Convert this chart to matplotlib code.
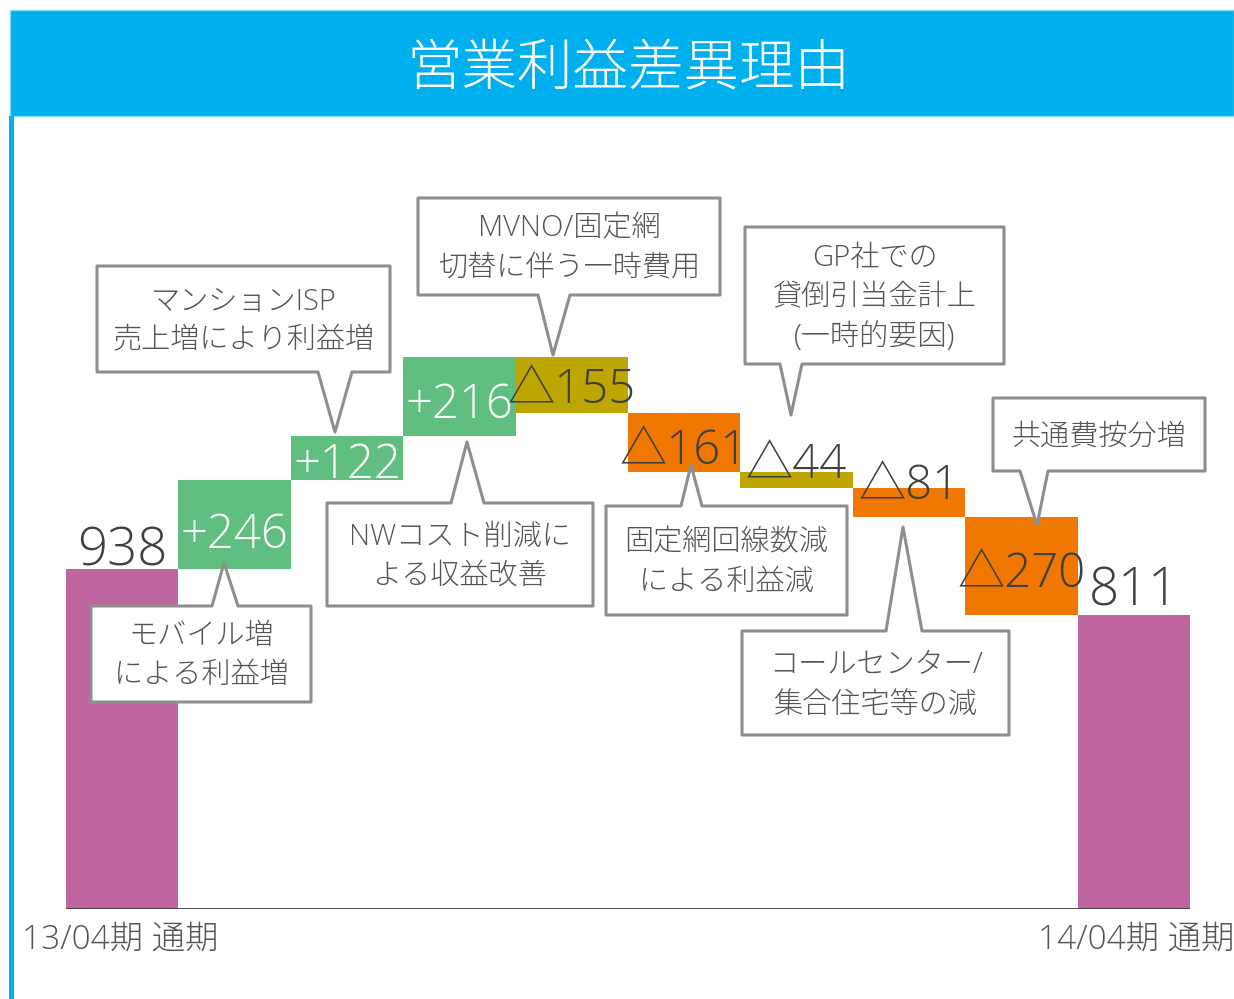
import matplotlib
matplotlib.use('Agg')
import matplotlib.pyplot as plt
from matplotlib.patches import Polygon, Rectangle

plt.rcParams['font.family'] = ['Open Sans', 'Noto Sans CJK JP', 'DejaVu Sans']
plt.rcParams['font.weight'] = 'light'

# data
title = '営業利益差異理由'
start_label = '13/04期 通期'
end_label = '14/04期 通期'
start_value = 938
changes = [246, 122, 216, -155, -161, -44, -81, -270]
one_time = [False, False, False, True, False, True, False, False]
notes = [
    'モバイル増\nによる利益増',
    'マンションISP\n売上増により利益増',
    'NWコスト削減に\nよる収益改善',
    'MVNO/固定網\n切替に伴う一時費用',
    '固定網回線数減\nによる利益減',
    'GP社での\n貸倒引当金計上\n(一時的要因)',
    'コールセンター/\n集合住宅等の減',
    '共通費按分増',
]

PURPLE = '#BF66A0'
GREEN = '#60BF80'
OLIVE = '#BDA600'
ORANGE = '#F07800'
BLUE = '#00B0EE'
DARK = '#404040'
GREY_TXT = '#555555'
EDGE = '#8E8E8E'

W, H = 1234, 999
fig = plt.figure(figsize=(W / 100, H / 100), dpi=100)

# main axes: baseline at y=909 px, bars from x=66 to 1190 px
top_px, base_px = 120, 909
ax = fig.add_axes([66 / W, (H - base_px) / H, (1190 - 66) / W, (base_px - top_px) / H])
ax.set_xlim(-0.5, len(changes) + 1.5)
ax.set_ylim(0, start_value * (base_px - top_px) / (base_px - 569))
ax.axis('off')

end_value = start_value + sum(changes)
bottoms, heights, colors = [0], [start_value], [PURPLE]
run = start_value
for c, ot in zip(changes, one_time):
    if c >= 0:
        bottoms.append(run)
        heights.append(c)
        colors.append(GREEN)
    else:
        bottoms.append(run + c)
        heights.append(-c)
        colors.append(OLIVE if ot else ORANGE)
    run += c
bottoms.append(0)
heights.append(end_value)
colors.append(PURPLE)

xs = list(range(len(heights)))
ax.bar(xs, heights, bottom=bottoms, width=1.0, color=colors, linewidth=0, zorder=2)
ax.axhline(0, color=DARK, lw=2, zorder=3)

# value labels
labels = [str(start_value)]
for c in changes:
    labels.append('+%d' % c if c >= 0 else '△%d' % (-c))
labels.append(str(end_value))
offs = [4, -24, -20, -22, -18, -21, 2, 3, -21, 10]
for i, (x, b, h, lab) in enumerate(zip(xs, bottoms, heights, labels)):
    if i in (0, len(xs) - 1):
        y = b + h
        size = 38
    else:
        y = b + h / 2
        size = 34
    col = 'white' if colors[i] == GREEN else DARK
    ax.annotate(lab, (x, y), xytext=(0, offs[i]), textcoords='offset pixels',
                ha='center', va='baseline', fontsize=size, color=col, zorder=5)

# overlay in pixel coords: banner, callouts, category labels
ov = fig.add_axes([0, 0, 1, 1], zorder=10)
ov.set_xlim(0, W)
ov.set_ylim(H, 0)
ov.axis('off')
ov.patch.set_alpha(0)

ov.add_patch(Rectangle((10, 10), W - 10, 106, facecolor=BLUE, edgecolor='#80D8F7', lw=1))
ov.add_patch(Rectangle((9, 116), 5, H - 116, facecolor=BLUE, edgecolor='none'))
ov.text(628, 70, title, color='white', fontsize=40, ha='center', va='center')

# box (l, t, r, b), pointer base (x1, x2), tip (tx, ty), side
boxes = [
    ((91, 606, 311, 702), (212, 238), (224, 563), 'top'),
    ((97, 266, 390, 372), (318, 352), (335, 432), 'bottom'),
    ((327, 503, 593, 606), (451, 484), (467, 442), 'top'),
    ((418, 198, 720, 295), (538, 570), (553, 355), 'bottom'),
    ((606, 506, 847, 615), (681, 702), (691, 465), 'top'),
    ((745, 227, 1004, 364), (780, 802), (791, 415), 'bottom'),
    ((742, 631, 1009, 735), (886, 922), (903, 527), 'top'),
    ((993, 398, 1205, 471), (1020, 1048), (1037, 525), 'bottom'),
]
for note, (bx, (x1, x2), (tx, ty), side) in zip(notes, boxes):
    l, t, r, b = bx
    if side == 'top':
        pts = [(l, t), (x1, t), (tx, ty), (x2, t), (r, t), (r, b), (l, b)]
    else:
        pts = [(l, t), (r, t), (r, b), (x2, b), (tx, ty), (x1, b), (l, b)]
    ov.add_patch(Polygon(pts, closed=True, facecolor='white', edgecolor=EDGE,
                         lw=2.2, joinstyle='round'))
    ov.text((l + r) / 2, (t + b) / 2 + 2, note, ha='center', va='center',
            fontsize=21, color=GREY_TXT, linespacing=1.44)

ov.text(22, 940, start_label, ha='left', va='center', fontsize=24, color=GREY_TXT)
ov.text(1234, 940, end_label, ha='right', va='center', fontsize=24, color=GREY_TXT)

fig.savefig('out.png', dpi=100, facecolor='white')
